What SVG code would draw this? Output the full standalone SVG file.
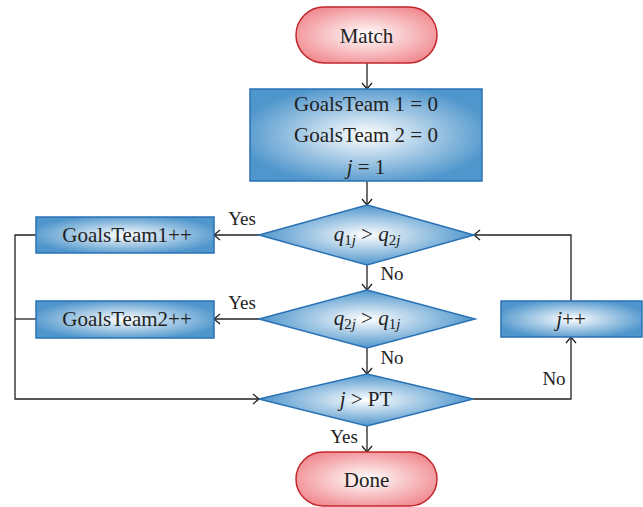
<svg xmlns="http://www.w3.org/2000/svg" width="643" height="507" viewBox="0 0 643 507">
  <style>
    .lbl { font-family: "Liberation Serif", "DejaVu Serif", serif; font-size: 21px; fill: #222; text-anchor: middle; }
    .small { font-family: "Liberation Serif", "DejaVu Serif", serif; font-size: 19px; fill: #222; text-anchor: middle; }
    .pill { fill: url(#redGrad); stroke: #c2272d; stroke-width: 1.5; }
    .box { fill: url(#blueGrad); stroke: #2a72b5; stroke-width: 1.5; }
    .dia { fill: url(#diaGrad); stroke: #2a72b5; stroke-width: 1.5; }
    .wire { fill: none; stroke: #222; stroke-width: 1.3; }
    .arrow { marker-end: url(#chev); }
    .it { font-style: italic; }
    .sub { font-size: 15px; }
  </style>
  <defs>
    <radialGradient id="redGrad" cx="0.5" cy="0.5" r="0.6">
      <stop offset="0" stop-color="#ffffff"/>
      <stop offset="1" stop-color="#f0868c"/>
    </radialGradient>
    <radialGradient id="blueGrad" cx="0.5" cy="0.5" r="0.55">
      <stop offset="0" stop-color="#ffffff"/>
      <stop offset="1" stop-color="#4f96cc"/>
    </radialGradient>
    <radialGradient id="diaGrad" cx="0.5" cy="0.5" r="0.5">
      <stop offset="0" stop-color="#ffffff"/>
      <stop offset="1" stop-color="#4f96cc"/>
    </radialGradient>
    <marker id="chev" markerUnits="userSpaceOnUse" markerWidth="14" markerHeight="14" viewBox="-8 -7 10 14" refX="0" refY="0" orient="auto">
      <path d="M-6,-5 L0,0 L-6,5" fill="none" stroke="#222" stroke-width="1.3"/>
    </marker>
  </defs>

  <!-- connectors -->
  <g id="connectors">
    <line class="wire arrow" x1="367" y1="63" x2="367" y2="89"/>
    <line class="wire arrow" x1="367" y1="181" x2="367" y2="205"/>
    <line class="wire arrow" x1="259" y1="235" x2="214" y2="235"/>
    <line class="wire arrow" x1="367" y1="265" x2="367" y2="290"/>
    <line class="wire arrow" x1="259" y1="319" x2="214" y2="319"/>
    <line class="wire arrow" x1="367" y1="348" x2="367" y2="374"/>
    <line class="wire arrow" x1="367" y1="426" x2="367" y2="452"/>
    <polyline class="wire arrow" points="36,235 15,235 15,399 259,399"/>
    <line class="wire" x1="36" y1="319" x2="15" y2="319" stroke-width="2"/>
    <polyline class="wire arrow" points="473,399 571,399 571,337"/>
    <polyline class="wire arrow" points="571,301 571,235 474,235"/>
    <text class="small" x="242" y="225">Yes</text>
    <text class="small" x="242" y="309">Yes</text>
    <text class="small" x="392" y="280">No</text>
    <text class="small" x="392" y="364">No</text>
    <text class="small" x="554" y="385">No</text>
    <text class="small" x="344" y="443">Yes</text>
  </g>

  <g id="match">
    <rect class="pill" x="296" y="7" width="141" height="56" rx="28" ry="28"/>
    <text class="lbl" x="366.5" y="43">Match</text>
  </g>

  <g id="init">
    <rect class="box" x="250" y="89" width="232" height="92"/>
    <text class="lbl" x="366" y="111">GoalsTeam 1 = 0</text>
    <text class="lbl" x="366" y="142">GoalsTeam 2 = 0</text>
    <text class="lbl" x="366" y="174"><tspan class="it">j</tspan> = 1</text>
  </g>

  <g id="cmp1">
    <polygon class="dia" points="367,205 474,235 367,265 259,235"/>
    <text class="lbl" x="367" y="241"><tspan class="it">q</tspan><tspan class="sub" dy="4">1<tspan class="it">j</tspan></tspan><tspan dy="-4"> &gt; </tspan><tspan class="it">q</tspan><tspan class="sub" dy="4">2<tspan class="it">j</tspan></tspan></text>
  </g>

  <g id="team1">
    <rect class="box" x="36" y="217" width="178" height="36"/>
    <text class="lbl" x="127" y="242">GoalsTeam1++</text>
  </g>

  <g id="cmp2">
    <polygon class="dia" points="367,290 475,319 367,348 259,319"/>
    <text class="lbl" x="367" y="325"><tspan class="it">q</tspan><tspan class="sub" dy="4">2<tspan class="it">j</tspan></tspan><tspan dy="-4"> &gt; </tspan><tspan class="it">q</tspan><tspan class="sub" dy="4">1<tspan class="it">j</tspan></tspan></text>
  </g>

  <g id="team2">
    <rect class="box" x="36" y="301" width="178" height="37"/>
    <text class="lbl" x="127" y="326">GoalsTeam2++</text>
  </g>

  <g id="inc">
    <rect class="box" x="501" y="301" width="141" height="36"/>
    <text class="lbl" x="571" y="326"><tspan class="it">j</tspan>++</text>
  </g>

  <g id="cmp3">
    <polygon class="dia" points="367,374 473,399 367,426 259,399"/>
    <text class="lbl" x="366" y="406"><tspan class="it">j</tspan> &gt; PT</text>
  </g>

  <g id="done">
    <rect class="pill" x="296" y="452" width="141" height="54" rx="27" ry="27"/>
    <text class="lbl" x="366.5" y="487">Done</text>
  </g>
</svg>
